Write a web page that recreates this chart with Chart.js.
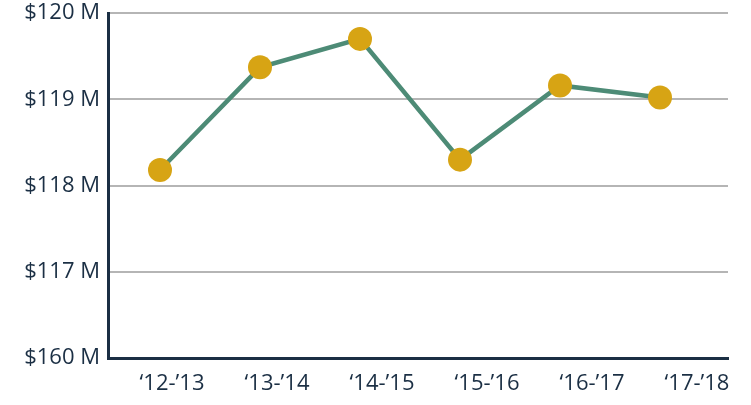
<!DOCTYPE html>
<html>
<head>
<meta charset="utf-8">
<script src="https://cdn.jsdelivr.net/npm/chart.js@4.4.0/dist/chart.umd.min.js"></script>
<style>
  html, body { margin: 0; padding: 0; background: #fff; }
  #wrap { width: 751px; height: 405px; position: relative; }
</style>
</head>
<body>
<div id="wrap"><canvas id="myChart"></canvas></div>
<script>
// data
const years = ["\u201812-\u201913", "\u201813-\u201914", "\u201814-\u201915", "\u201815-\u201916", "\u201816-\u201917", "\u201817-\u201918"];
const funding = [118.18, 119.37, 119.70, 118.30, 119.16, 119.02];
const yTickLabels = ["$160 M", "$117 M", "$118 M", "$119 M", "$120 M"];

const navy = "#1b2f44";
const points = funding.map(function (v, i) { return { x: i, y: v }; });

const ctx = document.getElementById('myChart');
const myChart = new Chart(ctx, {
    type: 'line',
    data: {
        datasets: [{
            data: points,
            borderColor: '#4d8b76',
            borderWidth: 4.5,
            pointBackgroundColor: '#d7a414',
            pointBorderWidth: 0,
            pointRadius: 12,
            pointHoverRadius: 12,
            tension: 0,
            clip: false
        }]
    },
    options: {
        responsive: true,
        maintainAspectRatio: false,
        animation: false,
        layout: { padding: { left: 0, right: 23, top: 13, bottom: 0 } },
        plugins: { legend: { display: false }, tooltip: { enabled: false } },
        scales: {
            x: {
                type: 'linear',
                display: false,
                min: -0.52,
                max: 5.68
            },
            xl: {
                type: 'linear',
                position: 'bottom',
                min: -0.61,
                max: 5.295,
                afterBuildTicks: function (scale) {
                    scale.ticks = years.map(function (y, i) { return { value: i }; });
                },
                afterFit: function (scale) { scale.height = 47; },
                grid: { display: false, drawTicks: false },
                border: { display: true, color: navy, width: 3 },
                ticks: {
                    autoSkip: false,
                    maxRotation: 0,
                    padding: 13,
                    color: navy,
                    font: { family: 'Open Sans', size: 22 },
                    callback: function (v) { return years[v]; }
                }
            },
            y: {
                min: 116,
                max: 120,
                afterBuildTicks: function (scale) {
                    scale.ticks = yTickLabels.map(function (t, i) { return { value: 116 + i }; });
                },
                afterFit: function (scale) {
                    scale.width = 108;
                    scale.paddingTop = 0;
                    scale.paddingBottom = 0;
                },
                grid: { color: '#b5b5b5', lineWidth: 2, drawTicks: false },
                border: { display: true, color: navy, width: 3 },
                ticks: {
                    padding: 8,
                    color: navy,
                    font: { family: 'Open Sans', size: 22 },
                    callback: function (v) { return yTickLabels[v - 116]; }
                }
            }
        }
    }
});
</script>
</body>
</html>
